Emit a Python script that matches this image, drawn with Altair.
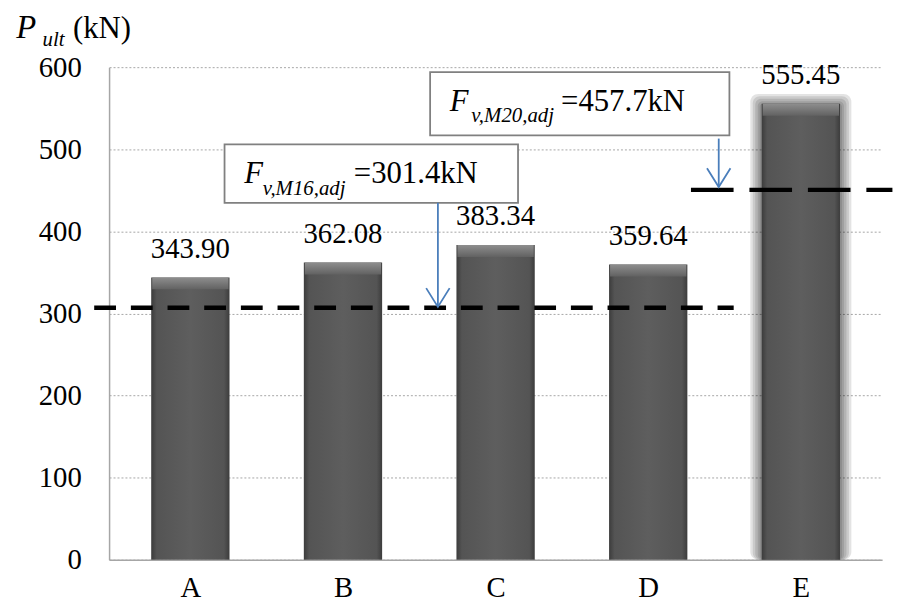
import json
import altair as alt
import pandas as pd

# ---------------- data ----------------
categories = ["A", "B", "C", "D", "E"]
values = [343.90, 362.08, 383.34, 359.64, 555.45]
value_labels = ["343.90", "362.08", "383.34", "359.64", "555.45"]
glow_categories = ["E"]

y_ticks = [0, 100, 200, 300, 400, 500, 600]

# dashed reference lines (level, start/end position in category units)
ref_levels = [307.0, 450.5]
ref_x_start = [-0.63, 3.28]
ref_x_end = [3.56, 4.60]
ref_pattern = ["short", "long"]

# annotation boxes
box_x1 = [0.224, 1.571]
box_x2 = [2.147, 3.532]
box_y_top = [506.0, 594.0]
box_y_bot = [434.8, 517.0]

# arrows (from box down to reference line)
arrow_x = [1.622, 3.462]
arrow_y_from = [434.8, 513.0]
arrow_y_to = [308.0, 454.0]

# annotation text pieces
ann_main_text = ["F", "F"]
ann_main_x = [0.353, 1.699]
ann_main_y = [459.0, 546.0]
ann_sub_text = ["v,M16,adj", "v,M20,adj"]
ann_sub_x = [0.474, 1.840]
ann_sub_y = [444.0, 533.0]
ann_val_text = ["=301.4kN", "=457.7kN"]
ann_val_x = [1.071, 2.429]
ann_val_y = [459.0, 546.0]

# y title pieces
ytitle_main = ["P"]
ytitle_sub = ["ult"]
ytitle_unit = ["(kN)"]
ytitle_x = [-1.141, -0.968, -0.769]
ytitle_y = [636.0, 626.0, 636.0]

FONT = "Liberation Serif"

# ---------------- frames ----------------
bars = pd.DataFrame({"pos": list(range(len(categories))), "cat": categories,
                     "value": values, "label": value_labels})
bars["bevel"] = bars["value"] - 14.5
glow = bars[bars["cat"].isin(glow_categories)].copy()

refs = pd.DataFrame({"y": ref_levels, "x": ref_x_start, "x2": ref_x_end, "pat": ref_pattern})
boxes = pd.DataFrame({"x": box_x1, "x2": box_x2, "y": box_y_top, "y2": box_y_bot})
arrows = pd.DataFrame({"x": arrow_x, "y": arrow_y_from, "y2": arrow_y_to})
ann_main = pd.DataFrame({"x": ann_main_x, "y": ann_main_y, "t": ann_main_text})
ann_sub = pd.DataFrame({"x": ann_sub_x, "y": ann_sub_y, "t": ann_sub_text})
ann_val = pd.DataFrame({"x": ann_val_x, "y": ann_val_y, "t": ann_val_text})
yt_it = pd.DataFrame({"x": ytitle_x[:1], "y": ytitle_y[:1], "t": ytitle_main})
yt_sub = pd.DataFrame({"x": ytitle_x[1:2], "y": ytitle_y[1:2], "t": ytitle_sub})
yt_unit = pd.DataFrame({"x": ytitle_x[2:], "y": ytitle_y[2:], "t": ytitle_unit})

# ---------------- scales / axes ----------------
xscale = alt.Scale(domain=[-0.5, len(categories) - 0.5], nice=False, zero=False)
yscale = alt.Scale(domain=[0, 600], nice=False)

label_expr = json.dumps(categories) + "[datum.value]"

x_axis = alt.Axis(values=list(range(len(categories))), labelExpr=label_expr, title=None,
                  grid=False, ticks=False, domainColor="#a6a6a6", domainWidth=1.5,
                  labelFont=FONT, labelFontSize=29, labelColor="#000000", labelPadding=14)
y_axis = alt.Axis(values=y_ticks, title=None, ticks=False, domainColor="#a6a6a6",
                  domainWidth=1.5, grid=True, gridColor="#a6a6a6", gridDash=[2, 2],
                  gridWidth=1, labelFont=FONT, labelFontSize=29, labelColor="#000000",
                  labelPadding=28)


def X(f="pos"):
    return alt.X(f"{f}:Q", scale=xscale, axis=x_axis, title=None)


def Y(f="value"):
    return alt.Y(f"{f}:Q", scale=yscale, axis=y_axis, title=None)


body_grad = {"gradient": "linear", "x1": 0, "y1": 0, "x2": 1, "y2": 0,
             "stops": [{"offset": 0, "color": "#3c3c3c"},
                       {"offset": 0.07, "color": "#545454"},
                       {"offset": 0.5, "color": "#5e5e5e"},
                       {"offset": 0.93, "color": "#545454"},
                       {"offset": 1, "color": "#3c3c3c"}]}
bevel_grad = {"gradient": "linear", "x1": 0, "y1": 0, "x2": 0, "y2": 1,
              "stops": [{"offset": 0, "color": "#8e8e8e"},
                        {"offset": 1, "color": "#626262"}]}

# soft glow around bar E: stacked translucent bars
glow_layers = []
for i, (sz, extra) in enumerate([(102, 12), (97, 9), (92, 6), (87, 3), (83, 1)]):
    glow_layers.append(
        alt.Chart(glow).transform_calculate(top=f"datum.value + {extra}")
        .mark_bar(size=sz, color="#000000", opacity=0.11, cornerRadius=8 - i)
        .encode(x=X(), y=Y("top"), y2=alt.datum(0))
    )

bar_layer = alt.Chart(bars).mark_bar(size=79, color=body_grad).encode(x=X(), y=Y("value"))
bevel_layer = alt.Chart(bars).mark_bar(size=77, color=bevel_grad).encode(
    x=X(), y=Y("value"), y2=alt.Y2("bevel:Q"))

value_text = alt.Chart(bars).mark_text(font=FONT, fontSize=29, color="#000000",
                                       baseline="alphabetic", dy=-20).encode(
    x=X(), y=Y("value"), text="label:N")

ref_short = alt.Chart(refs).transform_filter(alt.datum.pat == "short").mark_rule(
    color="#000000", strokeWidth=4.5, strokeDash=[22, 15], clip=False).encode(
    x=X("x"), x2="x2:Q", y=Y("y"))
ref_long = alt.Chart(refs).transform_filter(alt.datum.pat == "long").mark_rule(
    color="#000000", strokeWidth=4.5, strokeDash=[43, 16], clip=False).encode(
    x=X("x"), x2="x2:Q", y=Y("y"))

box_layer = alt.Chart(boxes).mark_rect(fill="#ffffff", stroke="#808080", strokeWidth=1.8).encode(
    x=X("x"), x2="x2:Q", y=Y("y"), y2="y2:Q")

arrow_line = alt.Chart(arrows).mark_rule(color="#4a7ebb", strokeWidth=1.8).encode(
    x=X("x"), y=Y("y"), y2="y2:Q")
arrow_head = alt.Chart(arrows).mark_point(shape="M-1,-1.6L0,0L1,-1.6", filled=False,
                                          color="#4a7ebb", strokeWidth=1.8, size=560,
                                          opacity=1).encode(
    x=X("x"), y=Y("y2"))


def txt(df, size, italic):
    kw = dict(font=FONT, fontSize=size, color="#000000", align="left",
              baseline="alphabetic", clip=False)
    if italic:
        kw["fontStyle"] = "italic"
    return alt.Chart(df).mark_text(**kw).encode(x=X("x"), y=Y("y"), text="t:N")


chart = alt.layer(
    *glow_layers, bar_layer, bevel_layer, value_text,
    ref_short, ref_long, box_layer, arrow_line, arrow_head,
    txt(ann_main, 31, True), txt(ann_sub, 21, True), txt(ann_val, 31, False),
    txt(yt_it, 33, True), txt(yt_sub, 21, True), txt(yt_unit, 31, False),
).properties(
    width=780, height=497,
    autosize=alt.AutoSizeParams(type="none"),
    padding={"left": 102, "top": 57, "right": 12, "bottom": 44},
).configure_view(stroke=None)

chart.save("out.html", embed_options={"renderer": "svg", "actions": False})
